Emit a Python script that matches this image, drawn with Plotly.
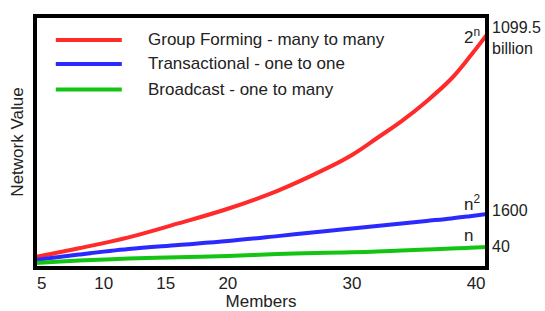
import plotly.graph_objects as go

# ---- data (schematic values; y in relative units 0-100) ----
members = [4.4, 8, 12, 16, 20, 24, 28, 30, 32, 34, 36, 38, 39.5, 40.9]
group_forming = [3.9, 7.5, 11.9, 17.5, 23.4, 30.6, 39.7, 45.0, 51.7, 58.6, 66.5, 75.6, 84.5, 93.5]
transactional = [2.8, 5.0, 7.2, 8.8, 10.4, 12.4, 14.5, 15.5, 16.5, 17.5, 18.5, 19.5, 20.4, 21.3]
broadcast = [1.6, 2.6, 3.4, 3.9, 4.4, 5.2, 5.7, 5.95, 6.2, 6.6, 7.0, 7.4, 7.7, 8.0]

series_names = ["Group Forming - many to many", "Transactional - one to one", "Broadcast - one to many"]
series_colors = ["#ff2a2a", "#2a2aff", "#14c414"]
growth_labels = ["2<sup>n</sup>", "n<sup>2</sup>", "n"]
end_labels = ["1099.5<br>billion", "1600", "40"]

x_ticks = [5, 10, 15, 20, 30, 40]

FONT = "Liberation Sans, Arial, sans-serif"
TXT = "#222222"

fig = go.Figure()
all_series = [group_forming, transactional, broadcast]
for name, vals, col in zip(series_names, all_series, series_colors):
    fig.add_trace(go.Scatter(x=members, y=vals, mode="lines", name=name,
                             line=dict(color=col, width=4, shape="spline"),
                             showlegend=False, hoverinfo="skip"))

shapes = []
annotations = []
# manual legend
legend_y = [0.905, 0.81, 0.708]
for name, col, ly in zip(series_names, series_colors, legend_y):
    shapes.append(dict(type="line", xref="paper", yref="paper", x0=0.046, x1=0.192,
                       y0=ly, y1=ly, line=dict(color=col, width=4)))
    annotations.append(dict(xref="paper", yref="paper", x=0.245, y=ly, xanchor="left",
                            yanchor="middle", text=name, showarrow=False,
                            font=dict(family=FONT, size=17, color=TXT)))

# end labels and growth labels
end_shift = [-4, 3, 1]
growth_shift = [-2, 11, 12]
for vals, el, gl, es, gs in zip(all_series, end_labels, growth_labels, end_shift, growth_shift):
    yv = vals[-1]
    annotations.append(dict(xref="paper", yref="y", x=1, y=yv, xanchor="left", yanchor="middle",
                            xshift=3, yshift=es, text=el, showarrow=False, align="left",
                            font=dict(family=FONT, size=16, color=TXT)))
    annotations.append(dict(xref="paper", yref="y", x=1, y=yv, xanchor="left", yanchor="middle",
                            xshift=-25, yshift=gs, text=gl, showarrow=False,
                            font=dict(family=FONT, size=17, color=TXT)))

# border box
shapes.append(dict(type="rect", xref="paper", yref="paper", x0=0, x1=1, y0=0, y1=1,
                   line=dict(color="black", width=4), layer="above"))

fig.update_layout(
    width=545, height=311,
    margin=dict(l=35, r=58, t=16, b=43),
    paper_bgcolor="white", plot_bgcolor="white",
    shapes=shapes, annotations=annotations,
    font=dict(family=FONT, size=17, color=TXT),
    xaxis=dict(range=[4.46, 40.88], tickvals=x_ticks, ticktext=[str(t) for t in x_ticks],
               showgrid=False, zeroline=False, showline=False, ticks="",
               ticklabelstandoff=3, automargin=False,
               tickfont=dict(size=17, color=TXT),
               title=dict(text="Members", font=dict(size=17, color=TXT), standoff=4)),
    yaxis=dict(range=[-0.4, 100.8], showticklabels=False, showgrid=False, zeroline=False,
               showline=False, ticks="", automargin=False,
               title=dict(text="Network Value", font=dict(size=17, color=TXT), standoff=6)),
)

fig.write_html("out.html", config={"displayModeBar": False},
               post_script="document.body.style.margin='0px';")
